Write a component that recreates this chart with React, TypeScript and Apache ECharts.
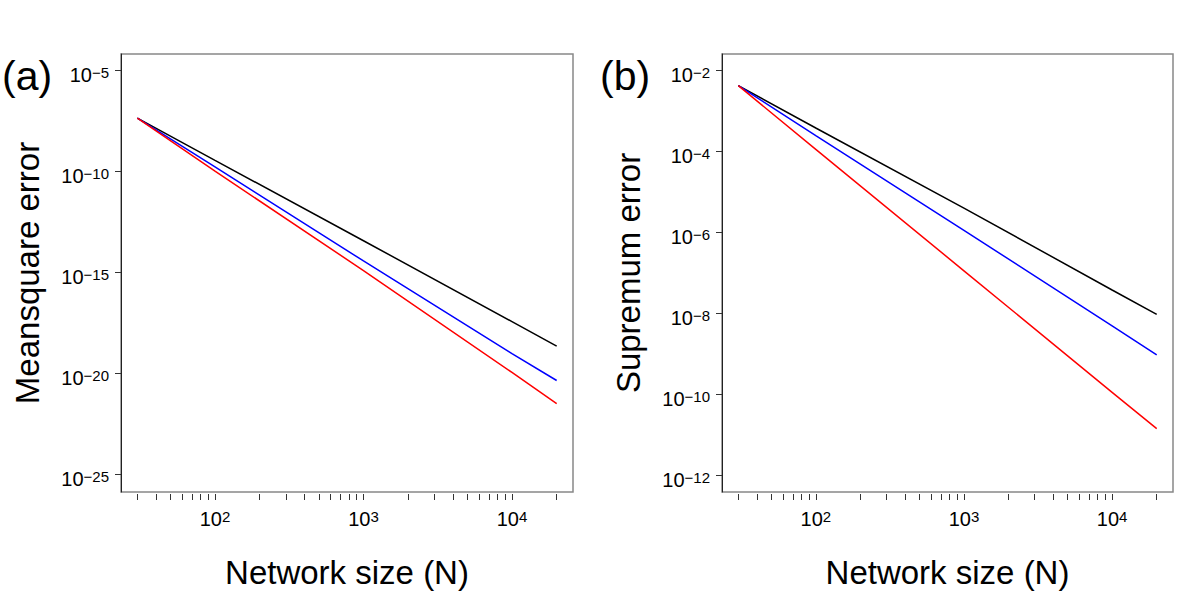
import React, { useEffect, useRef } from "react";
import * as echarts from "echarts";

const networkSizes = [30, 100, 1000, 10000, 20000];

// Panel (a): Meansquare error
const mseBlack = [4.2e-8, 3.4e-10, 3.6e-14, 3.6e-18, 2.2e-19];
const mseBlue = [4.2e-8, 1.6e-10, 3.6e-15, 9.5e-20, 4.4e-21];
const mseRed = [4.2e-8, 1.0e-10, 1.2e-15, 1.1e-20, 3.2e-22];

// Panel (b): Supremum error
const supBlack = [4.1e-3, 3.7e-4, 3.9e-6, 3.7e-8, 9.2e-9];
const supBlue = [4.1e-3, 2.4e-4, 1.1e-6, 4.8e-9, 9.3e-10];
const supRed = [4.1e-3, 1.1e-4, 1.1e-7, 1.1e-10, 1.4e-11];

// Tick positions
const xTickValues = [
  30, 40, 50, 60, 70, 80, 90,
  100, 200, 300, 400, 500, 600, 700, 800, 900,
  1000, 2000, 3000, 4000, 5000, 6000, 7000, 8000, 9000,
  10000, 20000,
];
const xLabelExps = [2, 3, 4];
const mseExps = [-25, -20, -15, -10, -5];
const supExps = [-12, -10, -8, -6, -4, -2];

const FONT = "Liberation Sans, Arial, Helvetica, sans-serif";
const lg = (v: number) => Math.log10(v);

const powLabel = (v: number) => {
  const e = Math.round(v);
  const s = e < 0 ? "\u2212" + Math.abs(e) : String(e);
  return `{b|10}{s|${s}}`;
};

const rich = {
  b: { fontSize: 20, lineHeight: 20, padding: [10, 0, 0, 0], fontFamily: FONT, color: "#000" },
  s: { fontSize: 15, lineHeight: 11, padding: [5, 0, 0, 0], verticalAlign: "top", fontFamily: FONT, color: "#000" },
};

export default function App() {
  const ref = useRef<HTMLDivElement>(null);
  useEffect(() => {
    document.body.style.margin = "0";
    if (!ref.current) return;
    const chart = echarts.init(ref.current, null, { renderer: "svg" });

    const mkX = (gi: number) => ({
      type: "value",
      gridIndex: gi,
      min: 1.367,
      max: 4.411,
      offset: 2,
      axisLine: { show: false },
      splitLine: { show: false },
      axisTick: {
        show: true,
        length: 6,
        customValues: xTickValues.map(lg),
        lineStyle: { color: "#333", width: 1 },
      },
      axisLabel: {
        customValues: xLabelExps,
        formatter: powLabel,
        rich,
        margin: 10,
      },
      name: "Network size (N)",
      nameLocation: "middle",
      nameGap: 62,
      nameTextStyle: { fontSize: 33, fontFamily: FONT, color: "#000" },
    });

    const mkY = (gi: number, min: number, max: number, exps: number[], name: string) => ({
      type: "value",
      gridIndex: gi,
      min,
      max,
      axisLine: { show: true, lineStyle: { color: "#222", width: 1 } },
      splitLine: { show: false },
      axisTick: {
        show: true,
        length: 6,
        customValues: exps,
        lineStyle: { color: "#333", width: 1 },
      },
      axisLabel: {
        customValues: exps,
        formatter: powLabel,
        rich,
        margin: 12,
      },
      name,
      nameLocation: "middle",
      nameGap: 77,
      nameTextStyle: { fontSize: 33, fontFamily: FONT, color: "#000" },
    });

    const mkSeries = (vals: number[], color: string, gi: number) => ({
      type: "line",
      xAxisIndex: gi,
      yAxisIndex: gi,
      data: networkSizes.map((n, i) => [lg(n), lg(vals[i])]),
      showSymbol: false,
      symbol: "none",
      lineStyle: { color, width: 1.5 },
      silent: true,
    });

    chart.setOption({
      animation: false,
      backgroundColor: "#fff",
      grid: [
        { left: 121, top: 54, width: 452, height: 438, show: true, borderColor: "#888", borderWidth: 1.5, backgroundColor: "transparent" },
        { left: 722, top: 54, width: 451, height: 438, show: true, borderColor: "#888", borderWidth: 1.5, backgroundColor: "transparent" },
      ],
      xAxis: [mkX(0), mkX(1)],
      yAxis: [
        mkY(0, -25.87, -4.21, mseExps, "Meansquare error"),
        mkY(1, -12.42, -1.605, supExps, "Supremum error"),
      ],
      series: [
        mkSeries(mseBlack, "#000000", 0),
        mkSeries(mseBlue, "#0000ff", 0),
        mkSeries(mseRed, "#ff0000", 0),
        mkSeries(supBlack, "#000000", 1),
        mkSeries(supBlue, "#0000ff", 1),
        mkSeries(supRed, "#ff0000", 1),
      ],
      graphic: [
        { type: "text", left: 2, top: 55, style: { text: "(a)", fontSize: 41, fontFamily: FONT, fill: "#000" } },
        { type: "text", left: 600, top: 55, style: { text: "(b)", fontSize: 41, fontFamily: FONT, fill: "#000" } },
      ],
    });
    return () => chart.dispose();
  }, []);
  return <div ref={ref} style={{ width: 1200, height: 600 }} />;
}
